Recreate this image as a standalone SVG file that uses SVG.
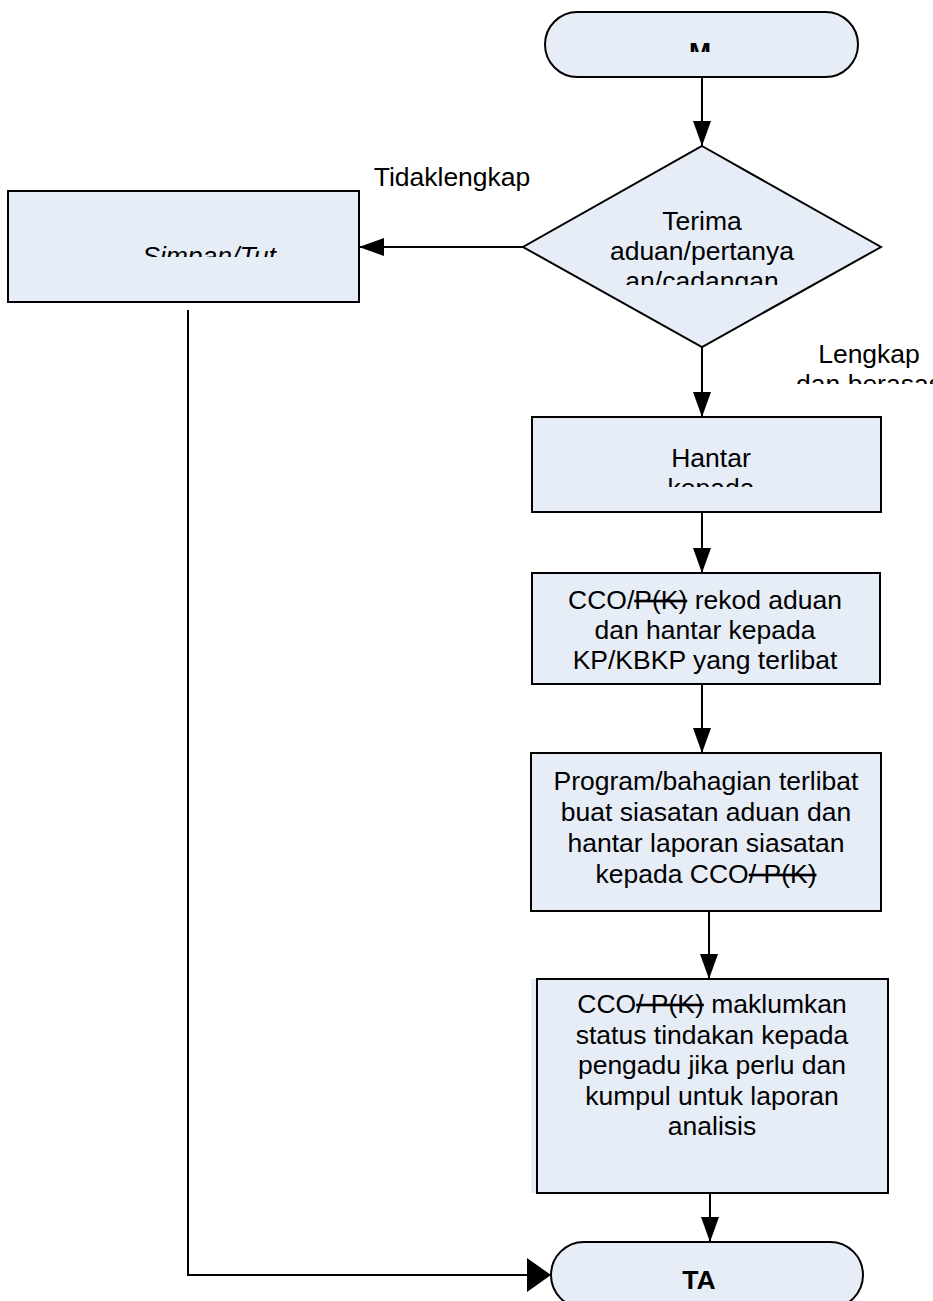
<svg xmlns="http://www.w3.org/2000/svg" width="933" height="1301" viewBox="0 0 933 1301">
<style>
.shape{fill:#E7EDF7;stroke:#000;stroke-width:2}
.fillonly{fill:#E7EDF7;stroke:none}
.t{font-family:"Liberation Sans",Arial,sans-serif;font-size:26.5px;fill:#000;text-anchor:middle}
.b{font-weight:bold}
.i{font-style:italic}
.conn{fill:none;stroke:#000;stroke-width:2}
.s{text-decoration:line-through}
</style>
<defs>
<marker id="ah" markerUnits="userSpaceOnUse" markerWidth="26" markerHeight="20" refX="25" refY="9" orient="auto">
<path d="M0,0 L25,9 L0,18 Z" fill="#000"/>
</marker>
<marker id="ahbig" markerUnits="userSpaceOnUse" markerWidth="26" markerHeight="36" refX="24" refY="17" orient="auto">
<path d="M0,0 L24,17 L0,34 Z" fill="#000"/>
</marker>
<clipPath id="cM"><rect x="545" y="12" width="313" height="40"/></clipPath>
<clipPath id="cD"><rect x="523" y="146" width="358" height="139"/></clipPath>
<clipPath id="cS"><rect x="8" y="191" width="351" height="66"/></clipPath>
<clipPath id="cL"><rect x="760" y="330" width="173" height="54"/></clipPath>
<clipPath id="cH"><rect x="532" y="417" width="349" height="70"/></clipPath>
</defs>
<g id="connectors">
<line class="conn" x1="702" y1="77" x2="702" y2="146" marker-end="url(#ah)"/>
<line class="conn" x1="523" y1="247" x2="359" y2="247" marker-end="url(#ah)"/>
<line class="conn" x1="702" y1="347" x2="702" y2="417" marker-end="url(#ah)"/>
<line class="conn" x1="702" y1="512" x2="702" y2="573" marker-end="url(#ah)"/>
<line class="conn" x1="702" y1="684" x2="702" y2="753" marker-end="url(#ah)"/>
<line class="conn" x1="709" y1="911" x2="709" y2="979" marker-end="url(#ah)"/>
<line class="conn" x1="710" y1="1193" x2="710" y2="1242" marker-end="url(#ah)"/>
<polyline class="conn" points="188,310 188,1275 551,1275" marker-end="url(#ahbig)"/>
</g>
<g id="label-tidak">
<text class="t" x="452" y="186">Tidaklengkap</text>
</g>
<g id="label-lengkap">
<g clip-path="url(#cL)">
<text class="t" x="869" y="363">Lengkap</text>
<text class="t" x="869" y="393">dan berasas</text>
</g>
</g>
<g id="start">
<rect class="shape" x="545" y="12" width="313" height="65" rx="32.5"/>
<text class="t b" x="700" y="61" clip-path="url(#cM)">M</text>
</g>
<g id="decision">
<polygon class="shape" points="702,146 881,247 702,347 523,247"/>
<g clip-path="url(#cD)">
<text class="t" x="702" y="230">Terima</text>
<text class="t" x="702" y="260">aduan/pertanya</text>
<text class="t" x="702" y="290">an/cadangan</text>
</g>
</g>
<g id="simpan">
<rect class="shape" x="8" y="191" width="351" height="111"/>
<text class="t i" x="209" y="265" clip-path="url(#cS)">Simpan/Tut</text>
</g>
<g id="hantar">
<rect class="shape" x="532" y="417" width="349" height="95"/>
<g clip-path="url(#cH)">
<text class="t" x="711" y="467">Hantar</text>
<text class="t" x="711" y="497">kepada</text>
</g>
</g>
<g id="rekod">
<rect class="shape" x="532" y="573" width="348" height="111"/>
<text class="t" x="705" y="609">CCO/<tspan class="s">P(K)</tspan> rekod aduan</text>
<text class="t" x="705" y="639">dan hantar kepada</text>
<text class="t" x="705" y="669">KP/KBKP yang terlibat</text>
</g>
<g id="siasatan">
<rect class="shape" x="531" y="753" width="350" height="158"/>
<text class="t" x="706" y="790">Program/bahagian terlibat</text>
<text class="t" x="706" y="821">buat siasatan aduan dan</text>
<text class="t" x="706" y="852">hantar laporan siasatan</text>
<text class="t" x="706" y="883">kepada CCO<tspan class="s">/ P(K)</tspan></text>
</g>
<g id="maklum">
<rect class="fillonly" x="531" y="979" width="355" height="214"/>
<rect class="shape" x="537" y="979" width="351" height="214"/>
<text class="t" x="712" y="1013">CCO<tspan class="s">/ P(K)</tspan> maklumkan</text>
<text class="t" x="712" y="1043.5">status tindakan kepada</text>
<text class="t" x="712" y="1074">pengadu jika perlu dan</text>
<text class="t" x="712" y="1104.5">kumpul untuk laporan</text>
<text class="t" x="712" y="1135">analisis</text>
</g>
<g id="end">
<rect class="shape" x="551" y="1242" width="312" height="66" rx="33"/>
<text class="t b" x="699" y="1289">TA</text>
</g>
</svg>
